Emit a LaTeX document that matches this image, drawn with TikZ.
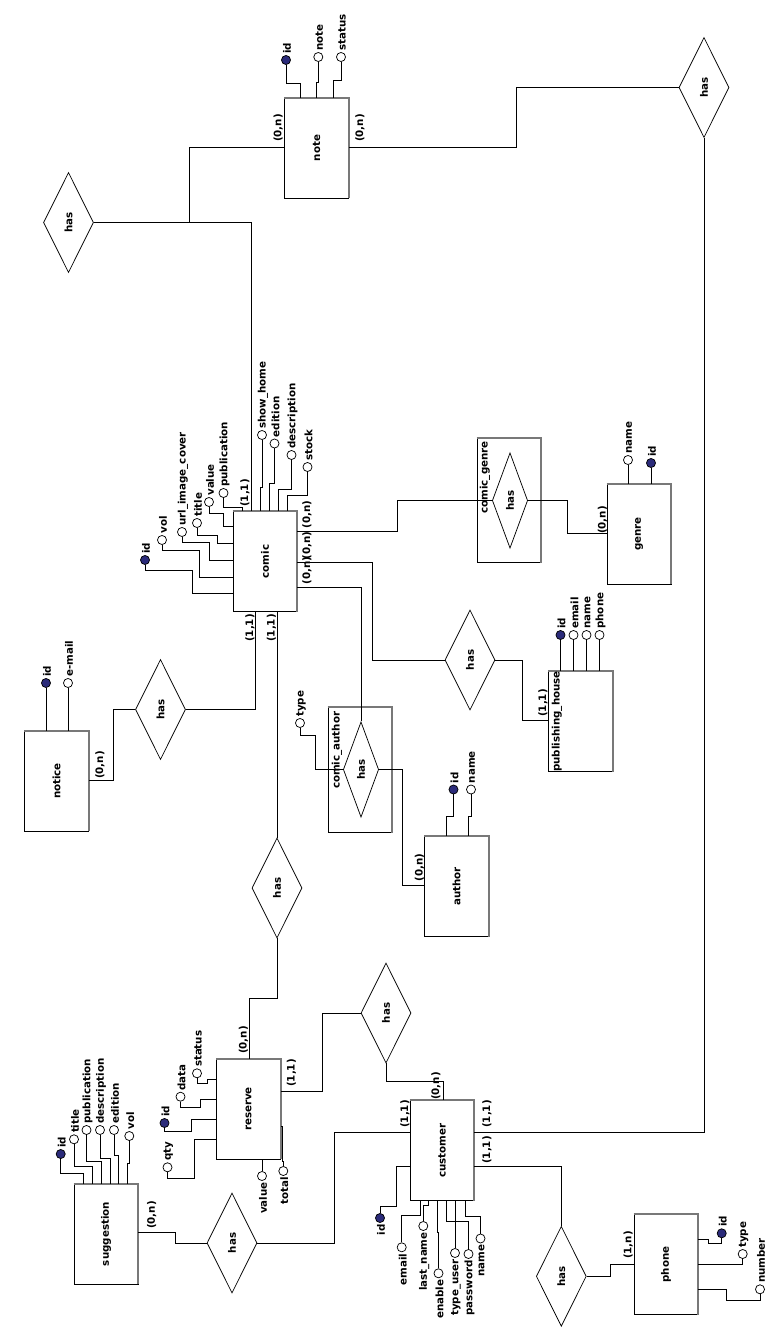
\documentclass[tikz,border=0pt]{standalone}
\usepackage{fontspec}
\setmainfont{DejaVu Sans}
\usetikzlibrary{shapes.geometric}
\definecolor{keyblue}{RGB}{43,43,122}
\definecolor{shadowc}{RGB}{120,120,120}
\newcommand\entshadow[1]{\draw[shadowc, line width=1.5pt] (#1.north west) -- (#1.north east) -- (#1.south east);}
\begin{document}
\begin{tikzpicture}[x=0.75pt,y=-0.75pt, line width=0.65pt,
  lbl/.style={rotate=90, inner sep=0.3pt, font=\fontsize{7.7}{9}\selectfont\bfseries},
  ent/.style={draw, fill=white, minimum width=48pt, minimum height=75pt, inner sep=0pt},
  assoc/.style={draw, minimum width=48pt, minimum height=93.5pt, inner sep=0pt},
  rel/.style={diamond, draw, fill=white, minimum width=37.5pt, minimum height=75pt, inner sep=0pt, line width=0.55pt},
  relsm/.style={rel, minimum width=26.5pt, minimum height=71.5pt},
  attr/.style={circle, draw, fill=white, minimum size=6.8pt, inner sep=0pt, line width=0.55pt},
  key/.style={attr, fill=keyblue}]
\fill[white] (0,0) rectangle (779,1328);
\useasboundingbox (0,0) rectangle (779,1328);

% ---------- entities ----------
\node[ent] (note) at (316.5,148) {};
\node[ent] (comic) at (265,561.5) {};
\node[ent] (genre) at (639,534) {};
\node[ent] (ph) at (580.5,721.5) {};
\node[ent] (notice) at (56.5,781) {};
\node[ent] (author) at (456.5,886.5) {};
\node[ent] (reserve) at (248.5,1109) {};
\node[ent] (customer) at (442,1150.5) {};
\node[ent] (sugg) at (106,1234) {};
\node[ent] (phone) at (666,1264.5) {};
\node[assoc] (cg) at (509,500.5) {};
\node[assoc] (ca) at (360,770) {};
\entshadow{note}\entshadow{comic}\entshadow{genre}\entshadow{ph}
\entshadow{notice}\entshadow{author}\entshadow{reserve}\entshadow{customer}
\entshadow{sugg}\entshadow{phone}\entshadow{cg}\entshadow{ca}

\node[lbl] (noteT) at (note) {note};
\node[lbl] (comicT) at (comic) {comic};
\node[lbl] (genreT) at (genre) {genre};
\node[lbl] (phT) at (557,721.5) {publishing\_house};
\node[lbl] (noticeT) at (notice) {notice};
\node[lbl] (authorT) at (author) {author};
\node[lbl] (reserveT) at (reserve) {reserve};
\node[lbl] (customerT) at (customer) {customer};
\node[lbl] (suggT) at (sugg) {suggestion};
\node[lbl] (phoneT) at (phone) {phone};
\node[lbl, anchor=east] (cgT) at (485,440.5) {comic\_genre};
\node[lbl, anchor=east] (caT) at (337,711) {comic\_author};

% ---------- relationships ----------
\node[rel] (hTL) at (68.5,222.5) {};
\node[rel] (hTR) at (704,87.5) {};
\node[rel] (hN) at (160.5,709.5) {};
\node[rel] (hPH) at (470,660) {};
\node[relsm] (hG) at (510,500.5) {};
\node[relsm] (hA) at (361,769.5) {};
\node[rel] (hM) at (277,888) {};
\node[rel] (hR) at (386,1013) {};
\node[rel] (hS) at (232,1243) {};
\node[rel] (hP) at (561.3,1276.3) {};
\foreach \h in {hTL,hTR,hN,hPH,hG,hA,hM,hR,hS,hP}{\node[lbl] (\h t) at (\h) {has};}

% ---------- relationship connectors ----------
\coordinate (jTL) at (189.4,222.5);
\draw (hTL.east) -| (comic.north -| 251.9,0);
\draw (jTL) |- (note.west |- 0,147.3);
\draw (hTR.west) -| (516,147.3) -- (note.east |- 0,147.3);
\draw (customer.east |- 0,1132.3) -| (hTR.south);
\draw (comic.east |- 0,531) -| (397,500.5) -- (hG.west);
\draw (hG.east) -| (567.7,533) -- (genre.west |- 0,533);
\draw (comic.east |- 0,562) -| (372,660) -- (hPH.west);
\draw (hPH.east) -| (522.3,720) -- (ph.west |- 0,720);
\draw (comic.east |- 0,587) -| (hA.north);
\draw (hA.east) -| (402.7,885) -- (author.west |- 0,885);
\draw (hN.east) -| (comic.south -| 255.7,0);
\draw (hN.west) -| (113.3,780) -- (notice.east |- 0,780);
\draw (comic.south -| 277,0) -- (hM.north);
\draw (hM.south) |- (249,998) -- (reserve.north -| 249,0);
\draw (hR.west) -| (322.7,1091) -- (reserve.east |- 0,1091);
\draw (hR.south) |- (443.3,1081) -- (customer.north -| 443.3,0);
\draw (hS.east) -| (334.3,1132.3) -- (customer.west |- 0,1132.3);
\draw (hS.west) -| (175,1232.7) -- (sugg.east |- 0,1232.7);
\draw (customer.east |- 0,1166) -| (hP.north);
\draw (hP.east) -| (610.7,1264) -- (phone.west |- 0,1264);

% ---------- cardinalities ----------
\node[lbl] (k1) at (278.3,128) {(0,n)};
\node[lbl] (k2) at (360,128) {(0,n)};
\node[lbl] (k3) at (245,493) {(1,1)};
\node[lbl, anchor=west] (k4) at (307,529) {(0,n)};
\node[lbl, anchor=west] (k5) at (307,560) {(0,n)};
\node[lbl, anchor=west] (k6) at (307,585) {(0,n)};
\node[lbl] (k7) at (250,628) {(1,1)};
\node[lbl] (k8) at (271.5,628) {(1,1)};
\node[lbl] (k9) at (602.5,520) {(0,n)};
\node[lbl] (k10) at (543,703) {(1,1)};
\node[lbl] (k11) at (100,765) {(0,n)};
\node[lbl] (k12) at (419.5,867.5) {(0,n)};
\node[lbl] (k13) at (243.5,1040) {(0,n)};
\node[lbl] (k14) at (291.5,1073) {(1,1)};
\node[lbl] (k15) at (436,1086) {(0,n)};
\node[lbl] (k16) at (405,1114) {(1,1)};
\node[lbl] (k17) at (487,1114) {(1,1)};
\node[lbl] (k18) at (487,1150) {(1,1)};
\node[lbl] (k19) at (151.7,1215) {(0,n)};
\node[lbl] (k20) at (628.3,1245) {(1,n)};

% ---------- note attributes ----------
\node[key] (n1) at (286,60) {};
\node[lbl,anchor=west] (n1t) at (287,54.5) {id};
\node[attr] (n2) at (318.3,57) {};
\node[lbl,anchor=west] (n2t) at (319.3,51.5) {note};
\node[attr] (n3) at (341,57) {};
\node[lbl,anchor=west] (n3t) at (342,51.5) {status};
\draw (n1.south) |- (300.7,83) -- (note.north -| 300.7,0);
\draw (n2.south) |- (316,82) -- (note.north -| 316,0);
\draw (n3.south) |- (333,80) -- (note.north -| 333,0);

% ---------- comic attributes ----------
\node[key] (c1) at (145,560) {};
\node[lbl,anchor=west] (c1t) at (146,554.5) {id};
\node[attr] (c2) at (162,540) {};
\node[lbl,anchor=west] (c2t) at (163,534.5) {vol};
\node[attr] (c3) at (182,532) {};
\node[lbl,anchor=west] (c3t) at (183,526.5) {url\_image\_cover};
\node[attr] (c4) at (197,523) {};
\node[lbl,anchor=west] (c4t) at (198,517.5) {title};
\node[attr] (c5) at (209,502) {};
\node[lbl,anchor=west] (c5t) at (210,496.5) {value};
\node[attr] (c6) at (223.5,493) {};
\node[lbl,anchor=west] (c6t) at (224.5,487.5) {publication};
\node[attr] (c7) at (262,435) {};
\node[lbl,anchor=west] (c7t) at (263,429.5) {show\_home};
\node[attr] (c8) at (274.5,443.5) {};
\node[lbl,anchor=west] (c8t) at (275.5,438) {edition};
\node[attr] (c9) at (291.5,455) {};
\node[lbl,anchor=west] (c9t) at (292.5,449.5) {description};
\node[attr] (c10) at (307.5,467) {};
\node[lbl,anchor=west] (c10t) at (308.5,461.5) {stock};
\draw (c1.south) |- (192,570) |- (comic.west |- 0,593);
\draw (c2.south) |- (199,550) |- (comic.west |- 0,577);
\draw (c3.south) |- (209,542) |- (comic.west |- 0,560);
\draw (c4.south) |- (217,535) |- (comic.west |- 0,543);
\draw (c5.south) |- (223,513) |- (comic.west |- 0,526);
\draw (c6.south) |- (242,507) -- (comic.north -| 242,0);
\draw (c7.south) |- (260,487) -- (comic.north -| 260,0);
\draw (c8.south) |- (269.5,483) -- (comic.north -| 269.5,0);
\draw (c9.south) |- (278.5,489) -- (comic.north -| 278.5,0);
\draw (c10.south) |- (287,495) -- (comic.north -| 287,0);

% ---------- genre attributes ----------
\node[attr] (g1) at (628,460) {};
\node[lbl,anchor=west] (g1t) at (629,454.5) {name};
\node[key] (g2) at (651,463) {};
\node[lbl,anchor=west] (g2t) at (652,457.5) {id};
\draw (g1.south) -- (genre.north -| 628,0);
\draw (g2.south) -- (genre.north -| 651,0);

% ---------- publishing_house attributes ----------
\node[key] (p1) at (560.5,635) {};
\node[attr] (p2) at (573.5,635) {};
\node[attr] (p3) at (586.5,635) {};
\node[attr] (p4) at (599.5,635) {};
\node[lbl,anchor=west] (p1t) at (561.5,629.5) {id};
\node[lbl,anchor=west] (p2t) at (574.5,629.5) {email};
\node[lbl,anchor=west] (p3t) at (587.5,629.5) {name};
\node[lbl,anchor=west] (p4t) at (600.5,629.5) {phone};
\foreach \p/\x in {p1/560.5,p2/573.5,p3/586.5,p4/599.5}{\draw (\p.south) -- (ph.north -| \x,0);}

% ---------- notice attributes ----------
\node[key] (o1) at (46,683) {};
\node[lbl,anchor=west] (o1t) at (47,677.5) {id};
\node[attr] (o2) at (68,683) {};
\node[lbl,anchor=west] (o2t) at (69,677.5) {e-mail};
\draw (o1.south) -- (notice.north -| 46,0);
\draw (o2.south) -- (notice.north -| 68,0);

% ---------- comic_author / author attributes ----------
\node[attr] (t1) at (300,723) {};
\node[lbl,anchor=west] (t1t) at (301,717.5) {type};
\draw (t1.south) |- (315,735) |- (hA.west);
\node[key] (a1) at (453.5,789.5) {};
\node[lbl,anchor=west] (a1t) at (454.5,784) {id};
\node[attr] (a2) at (471,789.5) {};
\node[lbl,anchor=west] (a2t) at (472,784) {name};
\draw (a1.south) |- (446,816) -- (author.north -| 446,0);
\draw (a2.south) |- (468.5,816.7) -- (author.north -| 468.5,0);

% ---------- reserve attributes ----------
\node[attr] (r1) at (197,1073.3) {};
\node[lbl,anchor=west] (r1t) at (198,1067.8) {status};
\node[attr] (r2) at (180.5,1096.7) {};
\node[lbl,anchor=west] (r2t) at (181.5,1091.2) {data};
\node[key] (r3) at (164.5,1123) {};
\node[lbl,anchor=west] (r3t) at (165.5,1117.5) {id};
\node[attr] (r4) at (167.5,1167.3) {};
\node[lbl,anchor=west] (r4t) at (168.5,1161.8) {qty};
\node[attr] (r5) at (262,1176) {};
\node[lbl,anchor=east] (r5t) at (263,1181.5) {value};
\node[attr] (r6) at (283.3,1171) {};
\node[lbl,anchor=east] (r6t) at (284.3,1176.5) {total};
\draw (r1.south) |- (207.7,1083.3) |- (reserve.west |- 0,1079.3);
\draw (r2.south) |- (200,1107.5) |- (reserve.west |- 0,1099.3);
\draw (r3.south) |- (191.7,1131) |- (reserve.west |- 0,1119.3);
\draw (r4.south) |- (194,1178.3) |- (reserve.west |- 0,1139.5);
\draw (r5.north) -- (reserve.south -| 262,0);
\draw (r6.north) -- (283.3,1161.5) -- (282.3,1161.5) -- (282.3,1126.5) -- (reserve.east |- 0,1126.5);

% ---------- customer attributes ----------
\node[key] (u1) at (380,1218) {};
\node[lbl,anchor=east] (u1t) at (381,1223.5) {id};
\node[attr] (u2) at (401.7,1247.3) {};
\node[lbl,anchor=east] (u2t) at (402.7,1252.8) {email};
\node[attr] (u3) at (423.3,1226) {};
\node[lbl,anchor=east] (u3t) at (424.3,1231.5) {last\_name};
\node[attr] (u4) at (438.5,1273.3) {};
\node[lbl,anchor=east] (u4t) at (439.5,1278.8) {enable};
\node[attr] (u5) at (455,1253) {};
\node[lbl,anchor=east] (u5t) at (456,1258.5) {type\_user};
\node[attr] (u6) at (468.5,1254) {};
\node[lbl,anchor=east] (u6t) at (469.5,1259.5) {password};
\node[attr] (u7) at (480.5,1238.5) {};
\node[lbl,anchor=east] (u7t) at (481.5,1244) {name};
\draw (u1.north) |- (396.7,1206) |- (customer.west |- 0,1166);
\draw (u2.north) |- (420,1215) -- (customer.south -| 420,0);
\draw (u3.north) |- (428.3,1205) -- (customer.south -| 428.3,0);
\draw (u4.north) |- (437,1232) -- (customer.south -| 437,0);
\draw (u5.north) -- (customer.south -| 455,0);
\draw (u6.north) |- (446.7,1221.7) -- (customer.south -| 446.7,0);
\draw (u7.north) |- (465,1216.7) -- (customer.south -| 465,0);

% ---------- suggestion attributes ----------
\node[key] (s1) at (60.7,1154) {};
\node[lbl,anchor=west] (s1t) at (61.7,1148.5) {id};
\node[attr] (s2) at (74,1139.3) {};
\node[lbl,anchor=west] (s2t) at (75,1133.8) {title};
\node[attr] (s3) at (86.5,1130) {};
\node[lbl,anchor=west] (s3t) at (87.5,1124.5) {publication};
\node[attr] (s4) at (100,1130) {};
\node[lbl,anchor=west] (s4t) at (101,1124.5) {description};
\node[attr] (s5) at (114,1130) {};
\node[lbl,anchor=west] (s5t) at (115,1124.5) {edition};
\node[attr] (s6) at (129.3,1136) {};
\node[lbl,anchor=west] (s6t) at (130.3,1130.5) {vol};
\draw (s1.south) |- (83.3,1173.3) -- (sugg.north -| 83.3,0);
\draw (s2.south) |- (92.7,1166.7) -- (sugg.north -| 92.7,0);
\draw (s3.south) |- (101.7,1161.7) -- (sugg.north -| 101.7,0);
\draw (s4.south) |- (110,1158) -- (sugg.north -| 110,0);
\draw (s5.south) |- (118.5,1155) -- (sugg.north -| 118.5,0);
\draw (s6.south) |- (127.3,1163) -- (sugg.north -| 127.3,0);

% ---------- phone attributes ----------
\node[key] (f1) at (721.7,1233.3) {};
\node[lbl,anchor=west] (f1t) at (722.7,1227.8) {id};
\node[attr] (f2) at (742.7,1254) {};
\node[lbl,anchor=west] (f2t) at (743.7,1248.5) {type};
\node[attr] (f3) at (760,1289.3) {};
\node[lbl,anchor=west] (f3t) at (761,1283.8) {number};
\draw (phone.east |- 0,1239.3) -| (708.3,1243) -| (f1.south);
\draw (phone.east |- 0,1264) -| (f2.south);
\draw (phone.east |- 0,1289.3) -| (726.7,1300.7) -| (f3.south);
\end{tikzpicture}
\end{document}
